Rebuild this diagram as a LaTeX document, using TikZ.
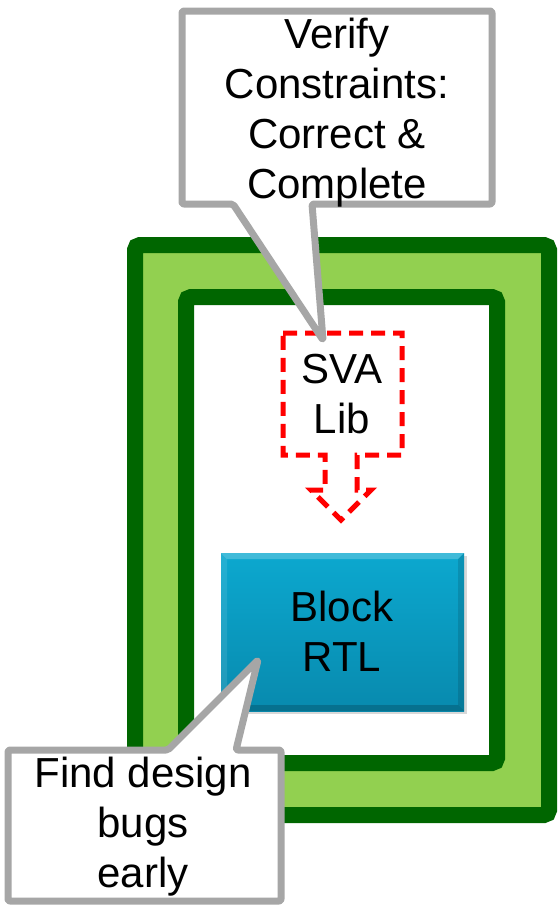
\documentclass[tikz,border=0pt]{standalone}
\usepackage{fontspec}
\setmainfont{Liberation Sans}
\usetikzlibrary{shadows}
\definecolor{dkgreen}{RGB}{0,102,0}
\definecolor{ltgreen}{RGB}{146,208,80}
\definecolor{callgray}{RGB}{166,166,166}
\definecolor{rtltop}{RGB}{12,168,207}
\definecolor{rtlmid}{RGB}{10,158,196}
\definecolor{rtlbot}{RGB}{8,138,174}
\definecolor{svared}{RGB}{255,0,0}
\begin{document}
\begin{tikzpicture}[x=1pt,y=-1pt,
  frame/.style={draw=dkgreen,line width=16pt,rounded corners=5pt,inner sep=0pt,outer sep=0pt},
  calloutline/.style={draw=callgray,fill=white,line width=7pt,line join=round,rounded corners=2pt},
  svabox/.style={draw=svared,line width=5pt,dash pattern=on 14pt off 8pt,line join=miter},
  lbl/.style={font=\fontsize{42}{50}\selectfont,align=center,text=black,inner sep=0pt},
  rtlbox/.style={top color=rtltop,middle color=rtlmid,bottom color=rtlbot,
    inner sep=0pt,outer sep=0pt,drop shadow={shadow xshift=3pt,shadow yshift=-3pt,opacity=0.3}},
  bevel/.style={draw=none}
]
\useasboundingbox (0,0) rectangle (558,908);
% frames
\node[frame,fill=ltgreen,minimum width=414pt,minimum height=570pt] (outer) at (342,530) {};
\node[frame,fill=white,minimum width=311pt,minimum height=466pt] (inner) at (341.5,530) {};
% SVA library box (down arrow callout)
\coordinate (svaNW) at (283,333);
\coordinate (svaNE) at (402,333);
\coordinate (svaSE) at (402,455);
\coordinate (svaSW) at (283,455);
\coordinate (stemR) at (357,455);
\coordinate (stemL) at (325,455);
\coordinate (headR) at (357,490);
\coordinate (wingR) at (371,490);
\coordinate (svatip) at (341,520);
\coordinate (wingL) at (311,490);
\coordinate (headL) at (325,490);
\draw[svabox] (svaNW) -- (svaNE) -- (svaSE) -- (stemR) -- (headR) -- (wingR) -- (svatip)
  -- (wingL) -- (headL) -- (stemL) -- (svaSW) -- cycle;
\node[lbl] (sva) at (342,394.5) {SVA\\Lib};
% Block RTL
\node[rtlbox,minimum width=243pt,minimum height=158pt] (rtl) at (342.5,632) {};
\fill[bevel,white,opacity=0.22] (rtl.north west) -- (rtl.north east) -- ([shift={(-6,6)}]rtl.north east) -- ([shift={(6,6)}]rtl.north west) -- cycle;
\fill[bevel,white,opacity=0.10] (rtl.north west) -- ([shift={(6,6)}]rtl.north west) -- ([shift={(6,-6)}]rtl.south west) -- (rtl.south west) -- cycle;
\fill[bevel,black,opacity=0.12] (rtl.north east) -- (rtl.south east) -- ([shift={(-6,-6)}]rtl.south east) -- ([shift={(-6,6)}]rtl.north east) -- cycle;
\fill[bevel,black,opacity=0.18] (rtl.south west) -- (rtl.south east) -- ([shift={(-6,-6)}]rtl.south east) -- ([shift={(6,-6)}]rtl.south west) -- cycle;
\node[lbl] (rtltext) at (342,631.5) {Block\\RTL};
% top callout
\coordinate (tcNW) at (182,11);
\coordinate (tcNE) at (492,11);
\coordinate (tcSE) at (492,204);
\coordinate (tcSW) at (182,204);
\coordinate (tcBR) at (312,204);
\coordinate (tcBL) at (233,204);
\coordinate (tctip) at (323,340);
\draw[calloutline] (tcNW) -- (tcNE) -- (tcSE) -- (tcBR) -- (tctip) -- (tcBL) -- (tcSW) -- cycle;
\node[lbl] (verify) at (337,112.5) {Verify\\Constraints:\\Correct \&\\Complete};
% bottom callout
\coordinate (bcNW) at (8,750);
\coordinate (bcNE) at (281,750);
\coordinate (bcSE) at (281,901);
\coordinate (bcSW) at (8,901);
\coordinate (bcBL) at (168,750);
\coordinate (bcBR) at (236,750);
\coordinate (bctip) at (258,660);
\draw[calloutline] (bcNW) -- (bcBL) -- (bctip) -- (bcBR) -- (bcNE) -- (bcSE) -- (bcSW) -- cycle;
\node[lbl] (find) at (143,826.5) {Find design\\bugs\\early};
\end{tikzpicture}
\end{document}
